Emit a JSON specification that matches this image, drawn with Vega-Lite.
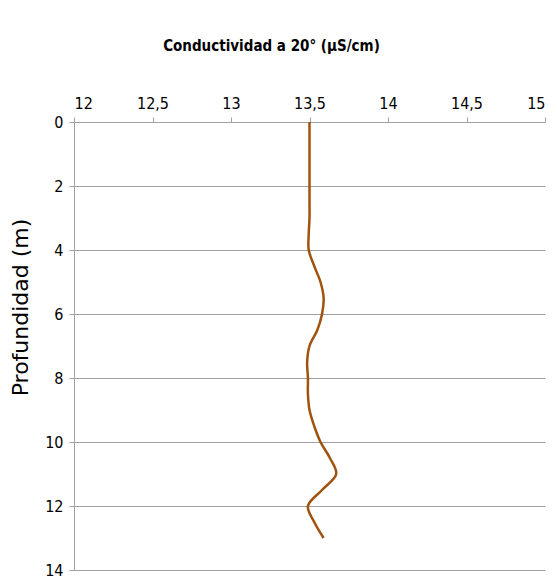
{
  "$schema": "https://vega.github.io/schema/vega-lite/v6.json",
  "autosize": "none",
  "width": 471,
  "height": 448,
  "padding": {"left": 74, "top": 122, "right": 12, "bottom": 9},
  "background": "white",
  "config": {"view": {"stroke": null}},
  "data": {"values": [
    {"depth": 0, "cond": 13.50},
    {"depth": 0.5, "cond": 13.50},
    {"depth": 1, "cond": 13.50},
    {"depth": 1.5, "cond": 13.50},
    {"depth": 2, "cond": 13.50},
    {"depth": 2.5, "cond": 13.50},
    {"depth": 3, "cond": 13.50},
    {"depth": 3.5, "cond": 13.495},
    {"depth": 4, "cond": 13.495},
    {"depth": 4.5, "cond": 13.53},
    {"depth": 5, "cond": 13.57},
    {"depth": 5.5, "cond": 13.59},
    {"depth": 6, "cond": 13.58},
    {"depth": 6.5, "cond": 13.55},
    {"depth": 7, "cond": 13.50},
    {"depth": 7.5, "cond": 13.485},
    {"depth": 8, "cond": 13.49},
    {"depth": 8.5, "cond": 13.49},
    {"depth": 9, "cond": 13.50},
    {"depth": 9.5, "cond": 13.53},
    {"depth": 10, "cond": 13.57},
    {"depth": 10.5, "cond": 13.63},
    {"depth": 11, "cond": 13.67},
    {"depth": 11.5, "cond": 13.58},
    {"depth": 12, "cond": 13.49},
    {"depth": 12.5, "cond": 13.53},
    {"depth": 13, "cond": 13.59}
  ]},
  "mark": {"type": "line", "color": "#a0520f", "strokeWidth": 2.5, "interpolate": "catmull-rom"},
  "encoding": {
    "order": {"field": "depth", "type": "quantitative"},
    "x": {
      "field": "cond", "type": "quantitative",
      "scale": {"domain": [12, 15], "nice": false, "zero": false},
      "axis": {
        "orient": "top",
        "values": [12, 12.5, 13, 13.5, 14, 14.5, 15],
        "labelExpr": "replace(toString(datum.value), '.', ',')",
        "grid": false,
        "domain": false,
        "ticks": true,
        "tickColor": "#a0a0a0",
        "tickSize": 5,
        "labelFont": "DejaVu Sans Condensed",
        "labelFontSize": 16,
        "labelColor": "#000000",
        "labelPadding": 6,
        "title": "Conductividad a 20° (μS/cm)",
        "titleFont": "DejaVu Sans Condensed",
        "titleFontSize": 15,
        "titleFontWeight": "bold",
        "titleColor": "#000000",
        "titleX": 197,
        "titlePadding": 42
      }
    },
    "y": {
      "field": "depth", "type": "quantitative",
      "scale": {"domain": [0, 14], "reverse": true, "nice": false},
      "axis": {
        "values": [0, 2, 4, 6, 8, 10, 12, 14],
        "grid": true,
        "gridColor": "#a0a0a0",
        "gridWidth": 1,
        "domain": true,
        "domainColor": "#a0a0a0",
        "tickColor": "#a0a0a0",
        "tickSize": 5,
        "labelFont": "DejaVu Sans Condensed",
        "labelFontSize": 16,
        "labelColor": "#000000",
        "labelPadding": 6,
        "title": "Profundidad (m)",
        "titleFont": "DejaVu Sans",
        "titleFontSize": 22,
        "titleFontWeight": "normal",
        "titleColor": "#000000",
        "titleY": 185,
        "titlePadding": 12
      }
    }
  }
}
